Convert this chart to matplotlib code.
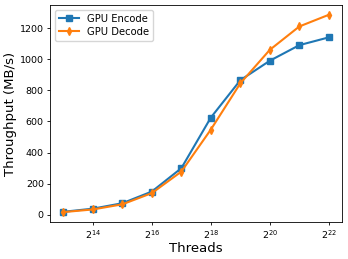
import matplotlib
matplotlib.use("Agg")
import matplotlib.pyplot as plt

# threads (log2 exponent) and throughput in MB/s
threads = [2**k for k in range(13, 23)]
encode = [20, 40, 75, 150, 300, 625, 865, 990, 1090, 1140]
decode = [18, 35, 68, 140, 278, 548, 845, 1060, 1210, 1285]

fig = plt.figure(figsize=(3.48, 2.59), dpi=100)
ax = fig.add_axes([0.144, 0.143, 0.839, 0.838])

ax.plot(threads, encode, marker="s", markersize=4, linewidth=1.5, color="#1f77b4", label="GPU Encode")
ax.plot(threads, decode, marker="d", markersize=4, linewidth=1.5, color="#ff7f0e", label="GPU Decode")

ax.set_xscale("log", base=2)
ax.set_xticks([2**14, 2**16, 2**18, 2**20, 2**22])
ax.set_xlabel("Threads", fontsize=9.5, labelpad=1)
ax.set_ylabel("Throughput (MB/s)", fontsize=9.5, labelpad=2)
ax.tick_params(labelsize=6.8, length=2.5, width=0.6, pad=2)
for s in ax.spines.values():
    s.set_linewidth(0.6)
ax.minorticks_off()
ax.legend(loc="upper left", fontsize=7.2, handlelength=2, borderpad=0.4, labelspacing=0.3)

fig.savefig("out.png", dpi=100)
